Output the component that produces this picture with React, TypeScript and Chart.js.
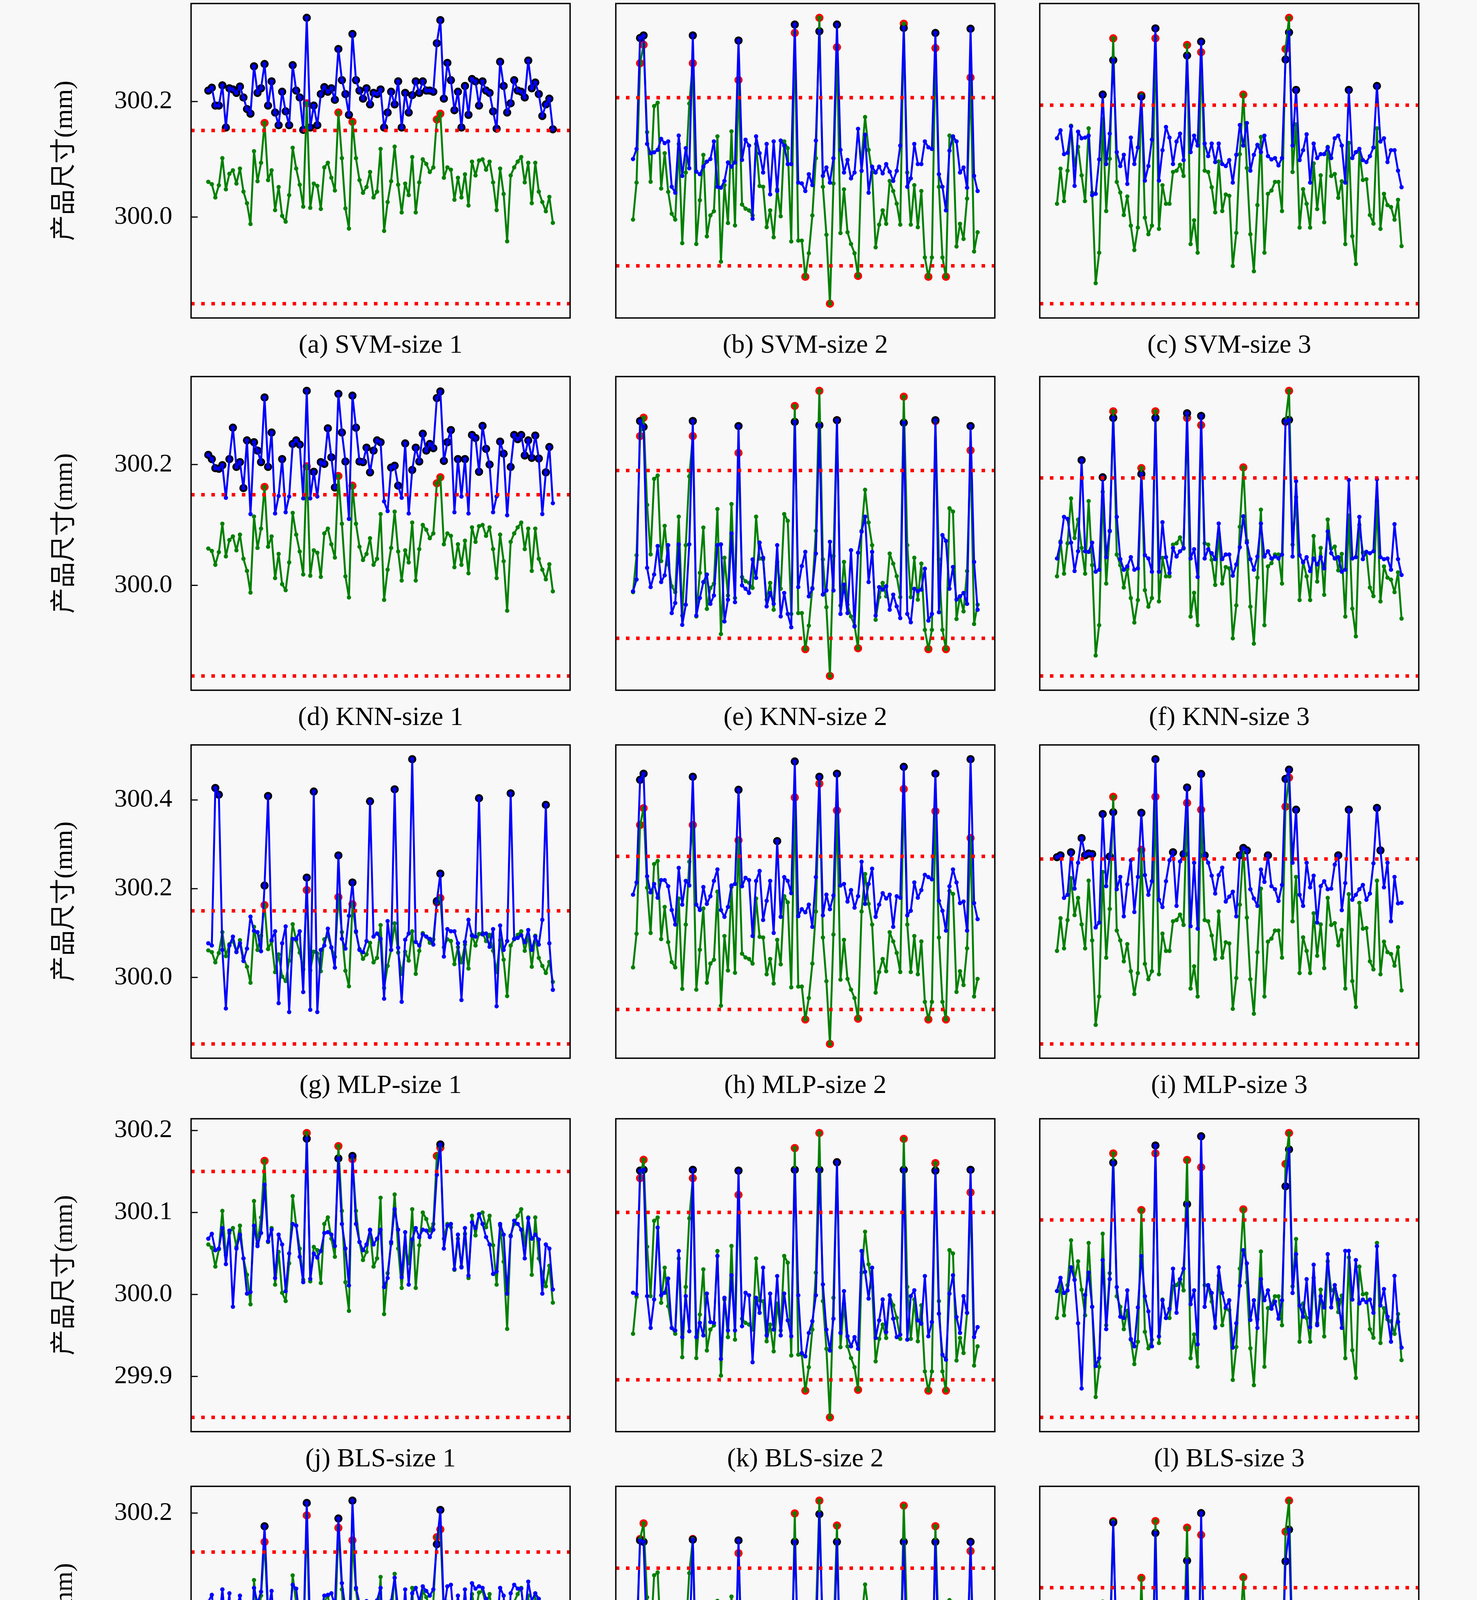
import React, { useEffect, useRef } from "react";
import { Chart, registerables } from "chart.js";

Chart.register(...registerables);

// ---------------- data ----------------
const X_TICKS = [0, 20, 40, 60, 80, 100];
const LIMITS_SIZE1 = [299.85, 300.15];
const LIMITS_SIZE2 = [299.9, 300.1];
const LIMITS_SIZE3 = [299.85, 300.15];

const Y_TICKS_SVM = [300.0, 300.2];
const Y_TICKS_KNN = [300.0, 300.2];
const Y_TICKS_MLP = [300.0, 300.2, 300.4];
const Y_TICKS_BLS = [299.9, 300.0, 300.1, 300.2];
const Y_TICKS_PNBLS = [300.0, 300.2];

const MODELS = ["SVM", "KNN", "MLP", "BLS", "pN-BLS"];
const SIZES = ["size 1", "size 2", "size 3"];
const LETTERS = ["a", "b", "c", "d", "e", "f", "g", "h", "i", "j", "k", "l", "m", "n", "o"];
const Y_TITLE = "产品尺寸(mm)";
const X_TITLE = "批次";

// actual sizes (green)
const ACTUAL_SIZE1 = [
  300.061, 300.057, 300.034, 300.055, 300.102, 300.048, 300.075, 300.081, 300.058, 300.084,
  300.044, 300.024, 299.988, 300.114, 300.062, 300.094, 300.163, 300.064, 300.081, 300.012,
  300.052, 300.002, 299.992, 300.038, 300.120, 300.084, 300.056, 300.018, 300.197, 300.016,
  300.058, 300.054, 300.014, 300.086, 300.094, 300.068, 300.046, 300.181, 300.102, 300.015,
  299.980, 300.165, 300.102, 300.064, 300.042, 300.052, 300.078, 300.034, 300.044, 300.118,
  299.976, 300.026, 300.062, 300.122, 300.056, 300.008, 300.058, 300.038, 300.104, 300.008,
  300.060, 300.100, 300.092, 300.078, 300.086, 300.169, 300.179, 300.068, 300.086, 300.082,
  300.030, 300.068, 300.034, 300.074, 300.020, 300.096, 300.072, 300.098, 300.100, 300.082,
  300.096, 300.060, 300.012, 300.084, 300.040, 299.958, 300.072, 300.086, 300.096, 300.104,
  300.060, 300.094, 300.024, 300.094, 300.044, 300.026, 300.010, 300.035, 299.990,
];
const ACTUAL_SIZE2 = [
  299.955, 299.999, 300.141, 300.163, 300.059, 300.000, 300.090, 300.094, 299.992, 300.034,
  299.988, 299.962, 299.955, 300.045, 299.927, 300.011, 300.093, 300.141, 299.926, 299.978,
  300.032, 299.935, 299.960, 299.965, 300.054, 299.905, 299.996, 299.951, 300.060, 299.948,
  300.121, 299.973, 299.968, 299.966, 299.960, 300.045, 299.995, 299.994, 299.946, 299.966,
  299.934, 299.991, 299.959, 300.048, 300.040, 299.929, 300.177, 299.930, 299.930, 299.887,
  299.915, 299.960, 300.028, 300.195, 299.994, 299.937, 299.855, 299.998, 300.160, 299.939,
  299.991, 299.940, 299.926, 299.915, 299.888, 300.028, 300.077, 300.038, 300.011, 299.922,
  299.949, 299.966, 299.950, 300.001, 299.989, 299.974, 299.949, 300.188, 300.011, 299.949,
  299.996, 299.946, 299.989, 299.910, 299.887, 299.910, 300.159, 299.994, 299.910, 299.887,
  300.055, 300.051, 299.923, 299.950, 299.932, 299.980, 300.124, 299.917, 299.940,
];
const ACTUAL_SIZE3 = [
  300.001, 300.054, 300.005, 300.051, 300.119, 300.059, 300.087, 300.044, 300.005, 300.115,
  300.018, 299.881, 299.927, 300.129, 299.990, 300.069, 300.251, 300.034, 300.018, 299.984,
  300.012, 299.968, 299.931, 299.965, 300.165, 299.980, 299.955, 299.968, 300.251, 299.963,
  300.029, 300.001, 300.001, 300.049, 300.051, 300.060, 300.043, 300.241, 299.940, 299.976,
  299.927, 300.230, 300.051, 300.049, 300.026, 299.988, 300.065, 299.990, 300.015, 300.013,
  299.907, 299.957, 300.076, 300.166, 300.055, 299.955, 299.899, 299.999, 300.102, 299.927,
  300.016, 300.021, 300.034, 300.034, 299.990, 300.235, 300.282, 300.049, 300.121, 299.965,
  300.023, 300.001, 299.965, 300.062, 299.993, 300.044, 299.973, 300.087, 300.043, 300.046,
  300.010, 300.035, 299.940, 300.093, 299.952, 299.910, 300.079, 300.037, 300.038, 299.984,
  299.971, 300.115, 299.963, 300.016, 299.999, 299.996, 299.977, 300.007, 299.937,
];

// predicted sizes (blue)
const PRED_SVM_SIZE1 = [
  300.219, 300.224, 300.193, 300.193, 300.228, 300.155, 300.223, 300.221, 300.215, 300.226,
  300.207, 300.187, 300.179, 300.261, 300.215, 300.223, 300.265, 300.193, 300.235, 300.181,
  300.159, 300.217, 300.183, 300.159, 300.263, 300.219, 300.207, 300.151, 300.345, 300.155,
  300.193, 300.159, 300.213, 300.225, 300.217, 300.223, 300.203, 300.291, 300.237, 300.213,
  300.177, 300.317, 300.237, 300.219, 300.205, 300.223, 300.195, 300.215, 300.213, 300.221,
  300.155, 300.181, 300.217, 300.195, 300.235, 300.155, 300.215, 300.181, 300.211, 300.235,
  300.215, 300.235, 300.219, 300.219, 300.217, 300.301, 300.341, 300.205, 300.267, 300.237,
  300.185, 300.217, 300.155, 300.227, 300.177, 300.239, 300.235, 300.193, 300.235, 300.219,
  300.215, 300.183, 300.153, 300.269, 300.227, 300.181, 300.197, 300.237, 300.219, 300.217,
  300.207, 300.271, 300.223, 300.233, 300.213, 300.175, 300.195, 300.205, 300.152,
];
const PRED_SVM_SIZE2 = [
  300.027, 300.039, 300.171, 300.174, 300.045, 300.034, 300.035, 300.038, 300.051, 300.046,
  300.048, 299.994, 299.987, 300.055, 300.007, 300.040, 300.016, 300.174, 300.012, 300.009,
  300.018, 300.024, 300.027, 300.048, 299.994, 299.993, 300.001, 300.023, 300.018, 300.023,
  300.168, 300.026, 300.050, 300.043, 299.956, 300.054, 300.034, 300.011, 300.045, 299.985,
  300.048, 299.989, 300.049, 300.043, 300.021, 300.021, 300.187, 299.999, 299.998, 299.989,
  300.009, 299.996, 300.049, 300.179, 300.007, 300.017, 299.999, 300.028, 300.187, 300.038,
  300.011, 300.026, 300.004, 300.011, 300.063, 300.013, 300.056, 299.987, 300.018, 300.011,
  300.018, 300.010, 300.021, 300.012, 300.001, 300.013, 300.043, 300.183, 299.994, 300.004,
  300.045, 300.021, 300.021, 300.048, 300.041, 300.039, 300.177, 300.009, 299.994, 299.966,
  300.037, 300.054, 300.048, 300.011, 300.017, 299.993, 300.182, 300.007, 299.989,
];
const PRED_SVM_SIZE3 = [
  300.100, 300.112, 300.076, 300.078, 300.118, 300.028, 300.110, 300.100, 300.101, 300.104,
  300.014, 300.016, 300.068, 300.166, 300.061, 300.107, 300.218, 300.079, 300.058, 300.075,
  300.031, 300.101, 300.061, 300.086, 300.163, 300.036, 300.058, 300.098, 300.266, 300.036,
  300.082, 300.117, 300.101, 300.061, 300.095, 300.107, 300.067, 300.225, 300.079, 300.104,
  300.089, 300.246, 300.092, 300.073, 300.092, 300.064, 300.092, 300.061, 300.058, 300.067,
  300.033, 300.075, 300.120, 300.089, 300.123, 300.051, 300.075, 300.090, 300.079, 300.104,
  300.073, 300.068, 300.070, 300.059, 300.070, 300.219, 300.260, 300.089, 300.173, 300.067,
  300.082, 300.106, 300.033, 300.092, 300.070, 300.076, 300.076, 300.086, 300.070, 300.100,
  300.104, 300.089, 300.033, 300.173, 300.070, 300.079, 300.084, 300.067, 300.064, 300.073,
  300.086, 300.179, 300.095, 300.100, 300.064, 300.082, 300.082, 300.051, 300.026,
];
const PRED_KNN_SIZE1 = [
  300.216, 300.209, 300.194, 300.193, 300.199, 300.145, 300.209, 300.261, 300.196, 300.204,
  300.161, 300.240, 300.118, 300.237, 300.223, 300.204, 300.311, 300.196, 300.253, 300.119,
  300.148, 300.209, 300.121, 300.147, 300.234, 300.240, 300.233, 300.144, 300.322, 300.144,
  300.188, 300.147, 300.204, 300.201, 300.260, 300.212, 300.162, 300.317, 300.253, 300.205,
  300.110, 300.314, 300.261, 300.205, 300.204, 300.228, 300.187, 300.223, 300.240, 300.237,
  300.139, 300.123, 300.195, 300.198, 300.165, 300.145, 300.235, 300.119, 300.191, 300.228,
  300.205, 300.251, 300.223, 300.234, 300.227, 300.310, 300.321, 300.206, 300.237, 300.257,
  300.121, 300.209, 300.147, 300.209, 300.119, 300.249, 300.244, 300.188, 300.264, 300.226,
  300.200, 300.121, 300.147, 300.238, 300.218, 300.116, 300.196, 300.249, 300.242, 300.249,
  300.215, 300.240, 300.211, 300.248, 300.210, 300.118, 300.187, 300.229, 300.136,
];
const PRED_KNN_SIZE2 = [
  299.956, 299.970, 300.159, 300.152, 299.984, 299.961, 299.976, 300.010, 299.967, 299.975,
  300.011, 299.930, 299.942, 300.012, 299.916, 299.940, 300.012, 300.159, 299.927, 299.948,
  299.967, 299.976, 299.941, 299.951, 300.011, 300.012, 299.920, 299.946, 300.025, 299.943,
  300.153, 299.963, 299.959, 299.954, 299.994, 299.972, 300.014, 299.996, 299.938, 299.954,
  299.941, 300.011, 299.926, 299.954, 299.929, 299.913, 300.158, 299.961, 299.986, 300.003,
  299.950, 299.959, 300.001, 300.154, 299.952, 299.957, 300.015, 299.957, 300.160, 299.929,
  299.964, 299.930, 300.005, 299.914, 300.002, 300.027, 300.045, 299.967, 300.003, 299.927,
  299.961, 299.958, 299.962, 299.934, 299.952, 299.938, 299.924, 300.157, 299.929, 299.919,
  299.959, 299.956, 299.958, 299.983, 299.921, 299.929, 300.160, 299.931, 300.023, 300.016,
  299.959, 299.985, 299.946, 299.950, 299.954, 299.941, 300.153, 299.991, 299.934,
];
const PRED_KNN_SIZE3 = [
  300.028, 300.052, 300.091, 300.088, 300.052, 300.009, 300.039, 300.177, 300.039, 300.038,
  300.052, 300.008, 300.011, 300.151, 300.030, 300.070, 300.241, 300.091, 300.027, 300.011,
  300.016, 300.030, 300.011, 300.013, 300.156, 300.033, 300.028, 300.008, 300.241, 300.008,
  300.083, 300.030, 300.006, 300.044, 300.031, 300.039, 300.044, 300.248, 300.028, 300.042,
  300.000, 300.244, 300.028, 300.042, 300.036, 300.027, 300.081, 300.027, 300.034, 300.034,
  300.002, 300.019, 300.045, 300.092, 300.052, 300.027, 300.011, 300.031, 300.081, 300.031,
  300.039, 300.028, 300.031, 300.028, 300.034, 300.236, 300.238, 300.031, 300.145, 300.033,
  300.022, 300.030, 300.009, 300.028, 300.019, 300.030, 300.013, 300.069, 300.036, 300.028,
  300.030, 300.008, 300.011, 300.147, 300.028, 300.030, 300.091, 300.027, 300.038, 300.036,
  300.039, 300.148, 300.030, 300.027, 300.028, 300.011, 300.080, 300.027, 300.003,
];
const PRED_MLP_SIZE1 = [
  300.077, 300.072, 300.427, 300.412, 300.062, 299.930, 300.072, 300.092, 300.057, 300.077,
  300.037, 300.065, 300.137, 300.105, 300.102, 300.059, 300.207, 300.409, 300.084, 300.104,
  299.942, 300.077, 300.115, 299.922, 300.087, 300.087, 300.104, 299.967, 300.225, 299.927,
  300.419, 299.922, 300.062, 300.072, 300.110, 300.067, 300.022, 300.275, 300.087, 300.065,
  300.139, 300.214, 300.104, 300.062, 300.057, 300.082, 300.397, 300.092, 300.099, 300.087,
  299.952, 300.127, 300.062, 300.424, 300.067, 299.945, 300.085, 300.099, 300.492, 300.080,
  300.072, 300.097, 300.092, 300.087, 300.074, 300.172, 300.234, 300.047, 300.109, 300.104,
  300.104, 300.077, 299.949, 300.080, 300.130, 300.094, 300.092, 300.404, 300.097, 300.099,
  300.069, 300.109, 299.935, 300.117, 300.062, 300.082, 300.415, 300.087, 300.089, 300.095,
  300.079, 300.107, 300.062, 300.092, 300.074, 300.130, 300.389, 300.077, 299.972,
];
const PRED_MLP_SIZE2 = [
  300.050, 300.066, 300.200, 300.208, 300.074, 300.053, 300.064, 300.046, 300.069, 300.069,
  300.061, 300.030, 300.011, 300.085, 300.037, 300.068, 300.062, 300.204, 300.037, 300.030,
  300.060, 300.038, 300.048, 300.068, 300.083, 300.030, 300.021, 300.034, 300.062, 300.064,
  300.187, 300.061, 300.072, 300.069, 299.996, 300.068, 300.081, 300.017, 300.042, 300.068,
  300.000, 300.120, 300.021, 300.073, 300.068, 300.052, 300.224, 300.022, 300.031, 300.027,
  300.037, 300.008, 300.073, 300.204, 300.023, 300.050, 300.031, 300.049, 300.208, 300.062,
  300.064, 300.041, 300.056, 300.033, 300.048, 300.093, 300.038, 300.064, 300.084, 300.021,
  300.037, 300.052, 300.045, 300.050, 300.008, 300.048, 300.046, 300.217, 300.023, 300.029,
  300.066, 300.046, 300.056, 300.076, 300.073, 300.070, 300.208, 300.042, 300.029, 300.003,
  300.061, 300.083, 300.066, 300.039, 300.041, 300.003, 300.227, 300.039, 300.018,
];
const PRED_MLP_SIZE3 = [
  300.153, 300.156, 300.087, 300.092, 300.161, 300.102, 300.144, 300.184, 300.156, 300.159,
  300.158, 300.039, 300.047, 300.223, 300.106, 300.154, 300.226, 300.101, 300.121, 300.057,
  300.109, 300.148, 300.064, 300.121, 300.225, 300.124, 300.092, 300.114, 300.312, 300.084,
  300.072, 300.114, 300.148, 300.161, 300.074, 300.146, 300.158, 300.266, 300.041, 300.144,
  300.037, 300.288, 300.156, 300.144, 300.123, 300.094, 300.124, 300.136, 300.081, 300.089,
  300.097, 300.057, 300.156, 300.168, 300.164, 300.101, 300.086, 300.074, 300.133, 300.113,
  300.156, 300.106, 300.101, 300.082, 300.108, 300.280, 300.295, 300.144, 300.230, 300.092,
  300.074, 300.144, 300.104, 300.123, 300.047, 300.106, 300.114, 300.101, 300.102, 300.141,
  300.156, 300.067, 300.111, 300.230, 300.084, 300.092, 300.101, 300.108, 300.084, 300.094,
  300.143, 300.233, 300.164, 300.104, 300.144, 300.049, 300.121, 300.078, 300.079,
];
const PRED_BLS_SIZE1 = [
  300.068, 300.074, 300.054, 300.056, 300.081, 300.037, 300.078, 299.985, 300.056, 300.073,
  300.044, 300.001, 300.003, 300.084, 300.059, 300.075, 300.134, 300.065, 300.079, 300.020,
  300.073, 300.061, 300.004, 300.050, 300.086, 300.084, 300.046, 300.015, 300.190, 300.019,
  300.050, 300.045, 300.053, 300.075, 300.076, 300.073, 300.059, 300.166, 300.086, 300.056,
  300.011, 300.169, 300.086, 300.064, 300.054, 300.061, 300.079, 300.061, 300.068, 300.079,
  300.009, 300.020, 300.064, 300.104, 300.079, 300.021, 300.076, 300.012, 300.067, 300.081,
  300.070, 300.079, 300.078, 300.070, 300.079, 300.146, 300.183, 300.056, 300.084, 300.086,
  300.031, 300.073, 300.033, 300.081, 300.023, 300.088, 300.081, 300.098, 300.086, 300.070,
  300.061, 300.025, 300.028, 300.086, 300.073, 300.001, 300.071, 300.090, 300.086, 300.079,
  300.044, 300.093, 300.068, 300.073, 300.067, 300.001, 300.061, 300.056, 300.006,
];
const PRED_BLS_SIZE2 = [
  300.004, 300.002, 300.150, 300.151, 300.000, 299.962, 299.996, 300.082, 300.001, 300.004,
  300.021, 299.962, 299.959, 300.054, 299.951, 300.000, 299.958, 300.151, 299.951, 299.968,
  299.953, 300.003, 299.969, 299.968, 300.048, 299.925, 299.998, 299.959, 300.025, 299.959,
  300.150, 299.964, 300.004, 300.001, 299.921, 299.998, 299.980, 300.034, 299.953, 300.003,
  299.960, 300.024, 299.953, 300.003, 299.971, 299.952, 300.151, 300.001, 299.932, 299.928,
  299.956, 299.970, 300.001, 300.151, 300.014, 299.960, 299.935, 299.973, 300.160, 299.956,
  300.006, 299.952, 299.940, 299.951, 299.937, 300.054, 300.029, 299.997, 300.034, 299.950,
  299.971, 299.996, 299.957, 300.001, 299.973, 299.951, 299.954, 300.151, 299.948, 300.000,
  300.007, 299.971, 299.967, 300.024, 299.952, 299.969, 300.150, 299.979, 299.930, 299.924,
  300.003, 300.025, 299.975, 299.956, 300.000, 299.980, 300.151, 299.951, 299.963,
];
const PRED_BLS_SIZE3 = [
  300.042, 300.062, 300.039, 300.043, 300.078, 300.059, 299.993, 299.894, 300.036, 300.070,
  300.018, 299.928, 299.940, 300.089, 299.984, 300.060, 300.237, 300.048, 300.003, 300.001,
  300.043, 299.969, 299.958, 300.017, 300.095, 300.034, 300.011, 299.958, 300.263, 299.973,
  300.028, 300.001, 300.015, 300.076, 300.009, 300.060, 300.076, 300.174, 300.022, 300.043,
  299.961, 300.277, 300.018, 300.051, 300.039, 299.986, 300.078, 300.039, 300.017, 300.028,
  299.956, 299.993, 300.050, 300.104, 300.084, 299.998, 300.028, 299.986, 300.060, 300.028,
  300.043, 300.015, 300.026, 300.000, 300.028, 300.201, 300.257, 300.039, 300.098, 300.020,
  300.003, 300.060, 299.987, 300.082, 299.990, 300.034, 300.017, 300.098, 300.017, 300.051,
  300.029, 299.986, 300.103, 300.103, 300.029, 300.089, 300.023, 300.029, 300.025, 300.029,
  300.009, 300.110, 300.020, 300.045, 300.003, 299.965, 300.065, 299.995, 299.956,
];
const PRED_PNBLS_SIZE1 = [
  300.086, 300.095, 300.055, 300.054, 300.102, 300.054, 300.097, 300.006, 300.075, 300.094,
  300.066, 300.040, 300.011, 300.104, 300.084, 300.099, 300.183, 300.074, 300.100, 300.036,
  300.066, 300.081, 300.033, 300.064, 300.108, 300.103, 300.064, 300.031, 300.213, 300.044,
  300.051, 300.066, 300.073, 300.094, 300.095, 300.097, 300.081, 300.193, 300.110, 300.077,
  300.029, 300.216, 300.104, 300.084, 300.077, 300.087, 300.082, 300.079, 300.088, 300.104,
  300.031, 300.044, 300.087, 300.117, 300.077, 300.040, 300.102, 300.031, 300.097, 300.104,
  300.087, 300.106, 300.100, 300.094, 300.102, 300.160, 300.204, 300.075, 300.106, 300.108,
  300.054, 300.094, 300.048, 300.102, 300.046, 300.110, 300.103, 300.106, 300.104, 300.090,
  300.084, 300.044, 300.054, 300.104, 300.094, 300.016, 300.097, 300.108, 300.103, 300.103,
  300.064, 300.112, 300.087, 300.097, 300.090, 300.028, 300.059, 300.079, 300.026,
];
const PRED_PNBLS_SIZE2 = [
  299.988, 299.989, 300.139, 300.137, 299.988, 299.935, 299.988, 300.041, 299.988, 299.991,
  300.008, 299.929, 299.939, 300.024, 299.958, 299.987, 299.988, 300.140, 299.948, 299.955,
  299.919, 299.991, 299.948, 299.938, 300.018, 299.918, 299.965, 299.939, 300.011, 299.944,
  300.139, 299.936, 299.991, 299.989, 299.924, 299.977, 299.925, 300.020, 299.948, 299.991,
  299.952, 299.997, 299.951, 299.988, 299.987, 299.955, 300.137, 299.988, 299.936, 299.868,
  299.945, 299.951, 299.989, 300.176, 300.002, 299.944, 299.794, 299.954, 300.137, 299.949,
  299.991, 299.949, 299.925, 299.958, 299.925, 300.013, 300.001, 299.988, 300.015, 299.949,
  299.955, 299.988, 299.949, 299.992, 299.959, 299.946, 299.949, 300.137, 299.948, 299.991,
  299.991, 299.954, 299.948, 300.013, 299.879, 299.928, 300.137, 299.951, 299.924, 299.882,
  299.988, 300.004, 299.954, 299.938, 299.987, 299.958, 300.137, 299.934, 299.945,
];
const PRED_PNBLS_SIZE3 = [
  300.024, 300.044, 300.015, 300.009, 300.057, 299.976, 300.049, 299.870, 300.027, 300.052,
  300.015, 299.910, 299.938, 300.071, 299.974, 300.041, 300.249, 300.035, 299.990, 299.954,
  300.046, 300.023, 299.968, 300.005, 300.076, 300.005, 299.998, 299.948, 300.233, 299.960,
  300.005, 299.990, 300.005, 300.057, 300.021, 300.012, 300.015, 300.191, 299.980, 300.027,
  299.929, 300.263, 299.999, 300.030, 300.024, 299.974, 300.052, 300.023, 300.001, 300.013,
  299.945, 299.967, 300.073, 300.090, 300.052, 299.988, 300.012, 299.945, 300.046, 299.998,
  300.009, 299.999, 300.010, 299.977, 300.015, 300.190, 300.238, 300.026, 300.080, 299.965,
  299.962, 300.043, 299.974, 300.063, 299.984, 300.007, 300.004, 300.077, 299.990, 300.032,
  300.023, 299.973, 299.974, 300.090, 299.993, 299.931, 300.060, 300.005, 300.001, 300.005,
  300.004, 300.096, 300.024, 299.990, 300.024, 299.945, 300.032, 299.977, 299.921,
];

const ACTUALS = [ACTUAL_SIZE1, ACTUAL_SIZE2, ACTUAL_SIZE3];
const LIMITS = [LIMITS_SIZE1, LIMITS_SIZE2, LIMITS_SIZE3];
const ROW_DEFS = [
  { model: MODELS[0], yTicks: Y_TICKS_SVM, preds: [PRED_SVM_SIZE1, PRED_SVM_SIZE2, PRED_SVM_SIZE3] },
  { model: MODELS[1], yTicks: Y_TICKS_KNN, preds: [PRED_KNN_SIZE1, PRED_KNN_SIZE2, PRED_KNN_SIZE3] },
  { model: MODELS[2], yTicks: Y_TICKS_MLP, preds: [PRED_MLP_SIZE1, PRED_MLP_SIZE2, PRED_MLP_SIZE3] },
  { model: MODELS[3], yTicks: Y_TICKS_BLS, preds: [PRED_BLS_SIZE1, PRED_BLS_SIZE2, PRED_BLS_SIZE3] },
  { model: MODELS[4], yTicks: Y_TICKS_PNBLS, preds: [PRED_PNBLS_SIZE1, PRED_PNBLS_SIZE2, PRED_PNBLS_SIZE3] },
];

// ---------------- layout & style ----------------
const PAGE_W = 3780;
const PAGE_H = 4913;
const BG = "#f8f8f8";
const COL_X = [489, 1576, 2661];
const PLOT_W = 970;
const ROW_Y = [9, 964, 1907, 2864, 3805];
const ROW_H = [805, 803, 802, 801, 803];
const PAD = 20;
const Y_AXIS_W = 362;
const X_AXIS_H = 199;
const SERIF = "'Liberation Serif', 'DejaVu Serif', serif";
const CJK = "'Liberation Serif', 'Noto Sans CJK SC', sans-serif";
const GREEN = "#008000";
const BLUE = "#0000ff";
const RED = "#ff0000";

const framePlugin = {
  id: "frameTicks",
  afterDraw(chart: any, _args: any, opts: any) {
    const { ctx, chartArea: a, scales } = chart;
    ctx.save();
    ctx.strokeStyle = "#000";
    ctx.lineWidth = 3;
    for (const v of opts.yTicks || []) {
      const y = scales.y.getPixelForValue(v);
      ctx.beginPath();
      ctx.moveTo(a.left, y);
      ctx.lineTo(a.left + 17, y);
      ctx.stroke();
    }
    for (const v of opts.xTicks || []) {
      const x = scales.x.getPixelForValue(v);
      ctx.beginPath();
      ctx.moveTo(x, a.bottom);
      ctx.lineTo(x, a.bottom - 17);
      ctx.stroke();
    }
    ctx.lineWidth = 3.5;
    ctx.strokeRect(a.left, a.top, a.right - a.left, a.bottom - a.top);
    ctx.restore();
  },
};

type PanelProps = {
  actual: number[];
  pred: number[];
  limits: number[];
  yTicks: number[];
  showY: boolean;
  showX: boolean;
  plotLeft: number;
  plotTop: number;
  plotH: number;
};

function Panel(p: PanelProps) {
  const ref = useRef<HTMLCanvasElement>(null);
  const w = PAD * 2 + PLOT_W + (p.showY ? Y_AXIS_W : 0);
  const h = PAD * 2 + p.plotH + (p.showX ? X_AXIS_H : 0);
  const left = p.plotLeft - PAD - (p.showY ? Y_AXIS_W : 0);
  const top = p.plotTop - PAD;

  useEffect(() => {
    const [lsl, usl] = p.limits;
    const all = [...p.actual, ...p.pred, lsl, usl];
    const lo = Math.min(...all);
    const hi = Math.max(...all);
    const yMin = lo - (hi - lo) * 0.05;
    const yMax = hi + (hi - lo) * 0.05;
    const n = p.actual.length;
    const xMin = -(n - 1) * 0.05;
    const xMax = (n - 1) * 1.05;
    const pts = (arr: number[]) => arr.map((v, i) => ({ x: i, y: v }));
    const outliers = (arr: number[]) => pts(arr).filter((q) => q.y > usl || q.y < lsl);
    const limitLine = (v: number) => ({
      data: [{ x: xMin, y: v }, { x: xMax, y: v }],
      borderColor: RED,
      borderWidth: 9,
      borderDash: [9, 17],
      borderCapStyle: "butt",
      pointRadius: 0,
      order: 0,
    });
    const dotSet = (arr: number[], color: string, order: number) => ({
      data: outliers(arr),
      showLine: false,
      pointStyle: "circle",
      pointRadius: 10.5,
      pointBorderWidth: 0,
      pointBackgroundColor: color,
      order,
    });
    const lineSet = (arr: number[], color: string, order: number) => ({
      data: pts(arr),
      borderColor: color,
      borderWidth: 5,
      borderJoinStyle: "round",
      pointRadius: 5.5,
      pointBorderWidth: 0,
      pointBackgroundColor: color,
      tension: 0,
      order,
    });

    const chart = new Chart(ref.current as HTMLCanvasElement, {
      type: "line",
      data: {
        datasets: [
          limitLine(usl),
          limitLine(lsl),
          lineSet(p.pred, BLUE, 2),
          lineSet(p.actual, GREEN, 3),
          dotSet(p.pred, "#000000", 4),
          dotSet(p.actual, RED, 5),
        ] as any,
      },
      options: {
        animation: false,
        responsive: false,
        devicePixelRatio: 1,
        events: [],
        layout: { padding: PAD },
        plugins: {
          legend: { display: false },
          tooltip: { enabled: false },
          frameTicks: { xTicks: p.showX ? X_TICKS : [], yTicks: p.showY ? p.yTicks : [] },
        } as any,
        scales: {
          x: {
            type: "linear",
            min: xMin,
            max: xMax,
            display: p.showX,
            grid: { display: false, drawTicks: false },
            border: { display: false },
            ticks: {
              font: { family: SERIF, size: 66 },
              color: "#000",
              padding: 18,
              autoSkip: false,
              maxRotation: 0,
              callback: (v: any) => String(v),
            },
            afterBuildTicks: (s: any) => {
              s.ticks = X_TICKS.map((v) => ({ value: v }));
            },
            afterFit: (s: any) => {
              s.height = p.showX ? X_AXIS_H : 0;
              s.paddingLeft = 0;
              s.paddingRight = 0;
            },
            title: {
              display: true,
              text: X_TITLE,
              font: { family: CJK, size: 66 },
              color: "#000",
              padding: 0,
            },
          },
          y: {
            type: "linear",
            min: yMin,
            max: yMax,
            display: p.showY,
            grid: { display: false, drawTicks: false },
            border: { display: false },
            ticks: {
              font: { family: SERIF, size: 66 },
              color: "#000",
              padding: 48,
              autoSkip: false,
              callback: (v: any) => Number(v).toFixed(1),
            },
            afterBuildTicks: (s: any) => {
              s.ticks = p.yTicks.map((v) => ({ value: v }));
            },
            afterFit: (s: any) => {
              s.width = p.showY ? Y_AXIS_W : 0;
              s.paddingTop = 0;
              s.paddingBottom = 0;
            },
            title: {
              display: true,
              text: Y_TITLE,
              font: { family: CJK, size: 66 },
              color: "#000",
              padding: 0,
            },
          },
        } as any,
      },
      plugins: [framePlugin as any],
    });
    return () => chart.destroy();
  }, []);

  return (
    <canvas
      ref={ref}
      width={w}
      height={h}
      style={{ position: "absolute", left, top, width: w, height: h }}
    />
  );
}

export default function App() {
  const lastRow = ROW_DEFS.length - 1;
  return (
    <div
      style={{
        position: "absolute",
        left: 0,
        top: 0,
        width: PAGE_W,
        height: PAGE_H,
        background: BG,
        overflow: "hidden",
      }}
    >
      {ROW_DEFS.map((row, r) =>
        SIZES.map((size, c) => {
          const plotBottom = ROW_Y[r] + ROW_H[r];
          const captionTop = r === lastRow ? 4824 : plotBottom + 32;
          return (
            <React.Fragment key={`${r}-${c}`}>
              <Panel
                actual={ACTUALS[c]}
                pred={row.preds[c]}
                limits={LIMITS[c]}
                yTicks={row.yTicks}
                showY={c === 0}
                showX={r === lastRow}
                plotLeft={COL_X[c]}
                plotTop={ROW_Y[r]}
                plotH={ROW_H[r]}
              />
              <div
                style={{
                  position: "absolute",
                  left: COL_X[c],
                  top: captionTop,
                  width: PLOT_W,
                  textAlign: "center",
                  fontFamily: SERIF,
                  fontSize: 68,
                  lineHeight: "68px",
                  color: "#000",
                  whiteSpace: "nowrap",
                }}
              >
                ({LETTERS[r * 3 + c]}) {row.model}-{size}
              </div>
            </React.Fragment>
          );
        })
      )}
    </div>
  );
}
